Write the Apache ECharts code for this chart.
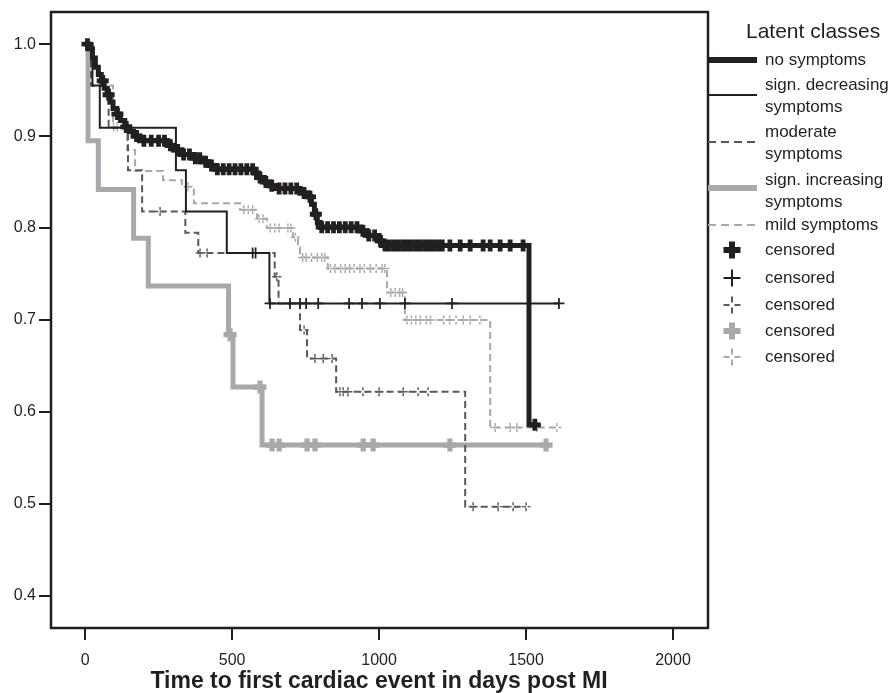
<!DOCTYPE html>
<html><head><meta charset="utf-8">
<script src="https://cdn.jsdelivr.net/npm/echarts@6/dist/echarts.min.js"></script>
<style>html,body{margin:0;padding:0;background:#fff}#c{width:890px;height:693px}</style>
</head><body><div id="c"></div>
<script>
// ---- data ----
const xTicks = [0, 500, 1000, 1500, 2000];
const yTicks = [0.4, 0.5, 0.6, 0.7, 0.8, 0.9, 1.0];
const xTitle = 'Time to first cardiac event in days post MI';
const seriesNames = ['no symptoms', 'sign. decreasing symptoms', 'moderate symptoms', 'sign. increasing symptoms', 'mild symptoms'];
const legendLabels = ['no symptoms', 'sign. decreasing\nsymptoms', 'moderate\nsymptoms', 'sign. increasing\nsymptoms', 'mild symptoms'];

const noSymptoms = [[0,1.0],[10,0.995],[25,0.985],[35,0.975],[45,0.967],[55,0.96],[65,0.952],[75,0.945],[85,0.937],[95,0.93],[108,0.924],[120,0.917],[135,0.91],[150,0.905],[165,0.9],[185,0.895],[280,0.89],[300,0.885],[330,0.88],[370,0.876],[395,0.872],[420,0.868],[445,0.864],[575,0.86],[590,0.855],[610,0.85],[630,0.846],[650,0.843],[730,0.838],[760,0.834],[770,0.826],[780,0.815],[790,0.806],[800,0.801],[935,0.797],[960,0.792],[1000,0.786],[1010,0.781],[1510,0.586],[1540,0.586]];
const signDecreasing = [[0,1.0],[25,0.955],[50,0.909],[309,0.863],[343,0.818],[482,0.773],[627,0.718],[1612,0.718]];
const moderate = [[0,1.0],[20,0.955],[80,0.909],[146,0.863],[194,0.818],[341,0.795],[385,0.773],[645,0.747],[658,0.718],[731,0.689],[755,0.658],[854,0.622],[1293,0.497],[1500,0.497]];
const signIncreasing = [[0,1.0],[10,0.895],[45,0.842],[165,0.789],[215,0.737],[488,0.684],[503,0.627],[602,0.564],[1568,0.564]];
const mild = [[0,1.0],[20,0.955],[95,0.91],[143,0.885],[170,0.862],[265,0.852],[330,0.845],[370,0.827],[527,0.82],[585,0.81],[619,0.80],[707,0.79],[724,0.779],[731,0.768],[826,0.756],[1027,0.73],[1088,0.70],[1378,0.583],[1605,0.583]];

const noSymptomsCensored = [8,60,80,110,140,175,200,225,250,270,290,315,335,355,375,390,410,430,450,470,490,510,530,550,570,595,615,635,660,680,700,720,745,765,785,805,825,845,865,885,905,925,945,965,985,1005,1020,1035,1050,1065,1080,1095,1110,1125,1140,1155,1170,1185,1200,1215,1241,1276,1310,1354,1378,1412,1446,1490,1530];
const signDecreasingCensored = [570,580,629,697,731,752,793,898,942,1003,1088,1248,1612];
const moderateCensored = [255,391,415,652,745,782,810,840,867,878,894,945,1000,1082,1133,1167,1320,1405,1456,1500];
const signIncreasingCensored = [493,595,636,660,755,782,946,980,1241,1568];
const mildCensored = [97,109,350,540,555,570,592,605,630,645,660,690,700,715,740,752,770,790,805,815,835,850,870,885,900,915,935,950,970,990,1010,1020,1040,1055,1070,1080,1095,1110,1125,1140,1160,1175,1220,1240,1262,1286,1310,1343,1395,1446,1469,1537,1605];

// ---- styles ----
const BLACK = '#231f20', DARK = '#58595b', LIGHT = '#a7a9ac';
const curves = [noSymptoms, signDecreasing, moderate, signIncreasing, mild];
const censors = [noSymptomsCensored, signDecreasingCensored, moderateCensored, signIncreasingCensored, mildCensored];
const colors = [BLACK, BLACK, DARK, LIGHT, LIGHT];
const widths = [5, 2, 2, 5, 2];
const dashes = ['solid', 'solid', [7,4], 'solid', [7,4]];
const THICK = 'path://M3,0H7V3H10V7H7V10H3V7H0V3H3Z';
const THIN = 'path://M4.2,0H5.8V4.2H10V5.8H5.8V10H4.2V5.8H0V4.2H4.2Z';
const BROKEN = 'path://M4.2,0H5.8V3.4H4.2Z M4.2,6.6H5.8V10H4.2Z M0,4.2H3.4V5.8H0Z M6.6,4.2H10V5.8H6.6Z';
const censorSymbols = [THICK, THIN, BROKEN, THICK, BROKEN];
const censorSizes = [12, 11, 9, 13, 9];
const zOrder = [10, 8, 6, 2, 4];

function sAt(curve, t) { let v = curve[0][1]; for (const p of curve) { if (p[0] <= t) v = p[1]; } return v; }

const series = [];
curves.forEach((c, i) => {
  series.push({ name: seriesNames[i], type: 'line', step: 'end', data: c, showSymbol: false, symbol: 'none',
    lineStyle: { color: colors[i], width: widths[i], type: dashes[i], cap: 'butt', join: 'miter' }, z: zOrder[i], silent: true });
  series.push({ name: 'censored ' + seriesNames[i], type: 'scatter', data: censors[i].map(t => [t, sAt(c, t)]),
    symbol: censorSymbols[i], symbolSize: censorSizes[i], itemStyle: { color: colors[i], opacity: 1 }, z: zOrder[i] + 1, silent: true });
});

// ---- legend and axis title drawn as graphic ----
const FONT = '"Liberation Sans", Arial, sans-serif';
const g = [];
g.push({ type: 'text', style: { text: xTitle, x: 379, y: 682, fontSize: 23, fontWeight: 'bold', fontFamily: FONT, fill: BLACK, align: 'center', verticalAlign: 'middle' } });
g.push({ type: 'text', style: { text: 'Latent classes', x: 746, y: 32, fontSize: 21, fontFamily: FONT, fill: BLACK, verticalAlign: 'middle' } });
const legLineY = [60, 95, 142, 188, 225];
const legTextY = [60, 96, 143, 191, 225];
for (let i = 0; i < 5; i++) {
  g.push({ type: 'line', shape: { x1: 708, y1: legLineY[i], x2: 757, y2: legLineY[i] },
    style: { stroke: colors[i], lineWidth: widths[i] === 5 ? 6 : 2, lineDash: Array.isArray(dashes[i]) ? [8,5] : null } });
  g.push({ type: 'text', style: { text: legendLabels[i], x: 765, y: legTextY[i], fontSize: 17, lineHeight: 22, fontFamily: FONT, fill: BLACK, verticalAlign: 'middle' } });
}
function plus(cx, cy, size, thick, color, broken) {
  const h = size / 2, t = thick / 2, gp = 2.5;
  if (!broken) return [
    { type: 'rect', shape: { x: cx - h, y: cy - t, width: size, height: thick }, style: { fill: color } },
    { type: 'rect', shape: { x: cx - t, y: cy - h, width: thick, height: size }, style: { fill: color } }];
  return [
    { type: 'rect', shape: { x: cx - h, y: cy - t, width: h - gp, height: thick }, style: { fill: color } },
    { type: 'rect', shape: { x: cx + gp, y: cy - t, width: h - gp, height: thick }, style: { fill: color } },
    { type: 'rect', shape: { x: cx - t, y: cy - h, width: thick, height: h - gp }, style: { fill: color } },
    { type: 'rect', shape: { x: cx - t, y: cy + gp, width: thick, height: h - gp }, style: { fill: color } }];
}
const cenY = [250, 278, 305, 331, 357];
const cenThick = [6, 2, 2, 6, 2];
const cenBroken = [false, false, true, false, true];
for (let i = 0; i < 5; i++) {
  plus(732, cenY[i], 17, cenThick[i], colors[i], cenBroken[i]).forEach(e => g.push(e));
  g.push({ type: 'text', style: { text: 'censored', x: 765, y: cenY[i], fontSize: 17, fontFamily: FONT, fill: BLACK, verticalAlign: 'middle' } });
}

const chart = echarts.init(document.getElementById('c'), null, { renderer: 'canvas' });
chart.setOption({
  animation: false,
  backgroundColor: '#fff',
  grid: { left: 51, top: 12, right: 182, bottom: 65, show: true, borderColor: BLACK, borderWidth: 2.5, backgroundColor: 'transparent', containLabel: false, outerBoundsMode: 'none' },
  xAxis: {
    type: 'value', min: -116, max: 2119,
    axisLine: { show: false, onZero: false }, splitLine: { show: false },
    axisTick: { show: true, customValues: xTicks, length: 12, lineStyle: { color: BLACK, width: 2 } },
    axisLabel: { customValues: xTicks, margin: 25, fontSize: 16, color: BLACK, fontFamily: FONT, formatter: v => String(v) }
  },
  yAxis: {
    type: 'value', min: 0.365, max: 1.035,
    axisLine: { show: false, onZero: false }, splitLine: { show: false },
    axisTick: { show: true, customValues: yTicks, length: 12, lineStyle: { color: BLACK, width: 2 } },
    axisLabel: { customValues: yTicks, margin: 15, fontSize: 16, color: BLACK, fontFamily: FONT, formatter: v => v.toFixed(1) }
  },
  series: series,
  graphic: g
});
</script></body></html>
